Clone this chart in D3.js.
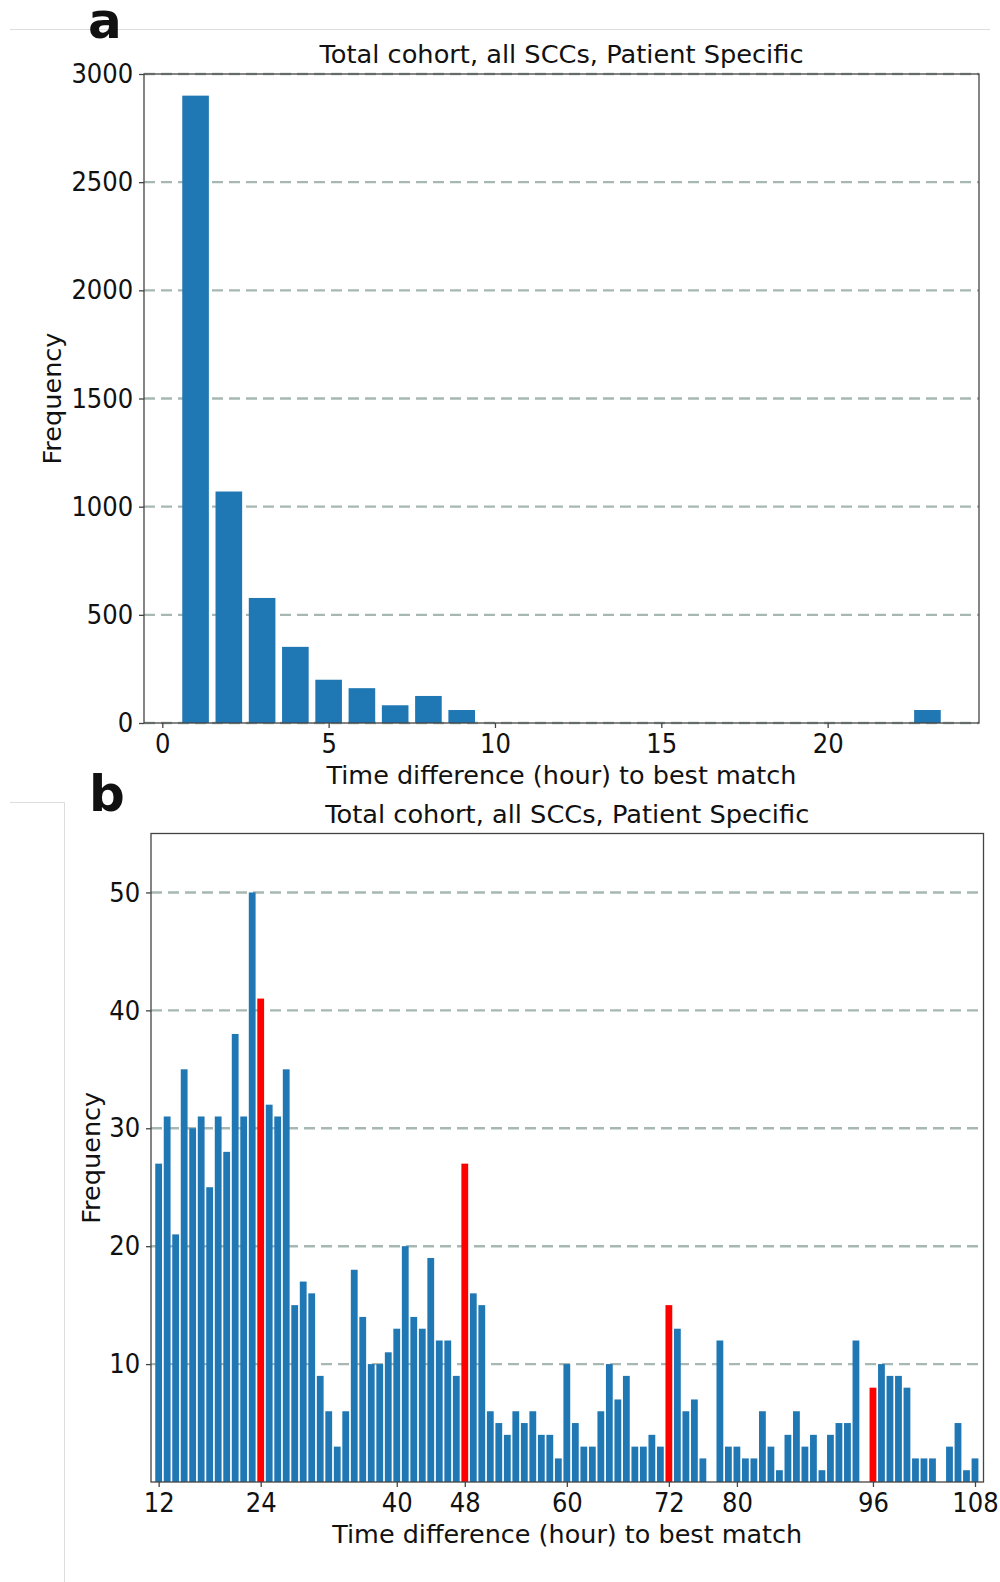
<!DOCTYPE html>
<html>
<head>
<meta charset="utf-8">
<script src="https://cdn.jsdelivr.net/npm/d3@7"></script>
<style>
  body { margin: 0; background: #fff; }
  text { font-family: 'DejaVu Sans', sans-serif; fill: #111; }
</style>
</head>
<body>
<script>
const w = 1000;
const h = 1582;

// panel a: hours 1..9 and 23
const hoursA = [1, 2, 3, 4, 5, 6, 7, 8, 9, 23];
const countsA = [2900, 1070, 578, 352, 200, 161, 82, 125, 60, 60];
const xTicksA = [0, 5, 10, 15, 20];
const yTicksA = [0, 500, 1000, 1500, 2000, 2500, 3000];

// panel b: hours 12..108
const hoursB = d3.range(12, 109);
const countsB = [27, 31, 21, 35, 30, 31, 25, 31, 28, 38,
  31, 50, 41, 32, 31, 35, 15, 17, 16, 9,
  6, 3, 6, 18, 14, 10, 10, 11, 13, 20,
  14, 13, 19, 12, 12, 9, 27, 16, 15, 6,
  5, 4, 6, 5, 6, 4, 4, 2, 10, 5,
  3, 3, 6, 10, 7, 9, 3, 3, 4, 3,
  15, 13, 6, 7, 2, 0, 12, 3, 3, 2,
  2, 6, 3, 1, 4, 6, 3, 4, 1, 4,
  5, 5, 12, 0, 8, 10, 9, 9, 8, 2,
  2, 2, 0, 3, 5, 1, 2];
const redHours = [24, 48, 72, 96];
const xTicksB = [12, 24, 40, 48, 60, 72, 80, 96, 108];
const yTicksB = [10, 20, 30, 40, 50];

const title = 'Total cohort, all SCCs, Patient Specific';
const xTitle = 'Time difference (hour) to best match';

const svg = d3.select('body')
  .append('svg')
  .attr('width', w)
  .attr('height', h);

// light separator lines from the figure layout
svg.append('line').attr('x1', 10).attr('x2', 990).attr('y1', 29.5).attr('y2', 29.5)
  .attr('stroke', '#ddd').attr('stroke-width', 1);
svg.append('line').attr('x1', 10).attr('x2', 64.5).attr('y1', 802.5).attr('y2', 802.5)
  .attr('stroke', '#ddd').attr('stroke-width', 1);
svg.append('line').attr('x1', 64.5).attr('x2', 64.5).attr('y1', 802.5).attr('y2', 1582)
  .attr('stroke', '#ddd').attr('stroke-width', 1);

function styleTicks(a) {
  a.select('.domain').remove();
  a.selectAll('line').attr('stroke', '#444').attr('stroke-width', 1.3);
  a.selectAll('text')
    .attr('font-size', 27)
    .attr('font-family', 'DejaVu Sans')
    .attr('fill', '#111')
    .attr('transform', 'scale(0.9,1)');
}

function panel(cfg) {
  const x = d3.scaleLinear().domain(cfg.xDomain).range([cfg.left, cfg.right]);
  const y = d3.scaleLinear().domain(cfg.yDomain).range([cfg.bottom, cfg.top]);
  const g = svg.append('g');

  g.selectAll('line.grid')
    .data(cfg.yTicks)
    .enter()
    .append('line')
    .attr('class', 'grid')
    .attr('x1', cfg.left)
    .attr('x2', cfg.right)
    .attr('y1', d => y(d))
    .attr('y2', d => y(d))
    .attr('stroke', '#a7b8b3')
    .attr('stroke-width', 2.4)
    .attr('stroke-dasharray', '11,6');

  g.selectAll('rect')
    .data(cfg.hours)
    .enter()
    .append('rect')
    .attr('x', d => x(d - 0.4))
    .attr('width', d => x(d + 0.4) - x(d - 0.4))
    .attr('y', (d, i) => y(cfg.counts[i]))
    .attr('height', (d, i) => y(0) - y(cfg.counts[i]))
    .style('fill', d => cfg.red.includes(d) ? '#ff0000' : '#1f77b4');

  g.append('rect')
    .attr('x', cfg.left)
    .attr('y', cfg.top)
    .attr('width', cfg.right - cfg.left)
    .attr('height', cfg.bottom - cfg.top)
    .attr('fill', 'none')
    .attr('stroke', '#444')
    .attr('stroke-width', 1.3);

  g.append('g')
    .attr('transform', `translate(0,${cfg.bottom})`)
    .call(d3.axisBottom(x).tickValues(cfg.xTicks).tickFormat(d3.format('d')).tickSize(5).tickPadding(6))
    .call(styleTicks);

  g.append('g')
    .attr('transform', `translate(${cfg.left},0)`)
    .call(d3.axisLeft(y).tickValues(cfg.yTicks).tickFormat(d3.format('d')).tickSize(5).tickPadding(7))
    .call(styleTicks);

  g.append('text')
    .attr('x', (cfg.left + cfg.right) / 2)
    .attr('y', cfg.top - 11)
    .attr('text-anchor', 'middle')
    .attr('font-size', 25)
    .attr('textLength', 484)
    .attr('lengthAdjust', 'spacingAndGlyphs')
    .text(title);

  g.append('text')
    .attr('x', (cfg.left + cfg.right) / 2)
    .attr('y', cfg.xTitleY)
    .attr('text-anchor', 'middle')
    .attr('font-size', 25)
    .attr('textLength', 470)
    .attr('lengthAdjust', 'spacingAndGlyphs')
    .text(xTitle);

  g.append('text')
    .attr('transform', `translate(${cfg.yTitleX},${(cfg.top + cfg.bottom) / 2}) rotate(-90)`)
    .attr('text-anchor', 'middle')
    .attr('font-size', 25)
    .attr('textLength', 132)
    .attr('lengthAdjust', 'spacingAndGlyphs')
    .text('Frequency');

  svg.append('text')
    .attr('x', cfg.labelX)
    .attr('y', cfg.labelY)
    .attr('font-family', 'Liberation Sans, Arial, sans-serif')
    .attr('font-weight', 'bold')
    .attr('font-size', 50)
    .text(cfg.label);
}

panel({
  label: 'a', labelX: 88, labelY: 38,
  hours: hoursA, counts: countsA, red: [],
  xDomain: [-0.55, 24.55], yDomain: [0, 3000],
  xTicks: xTicksA, yTicks: yTicksA,
  left: 144, right: 979, top: 74, bottom: 723,
  xTitleY: 784, yTitleX: 61
});

panel({
  label: 'b', labelX: 89, labelY: 811,
  hours: hoursB, counts: countsB, red: redHours,
  xDomain: [11.1, 109], yDomain: [0, 55],
  xTicks: xTicksB, yTicks: yTicksB,
  left: 151, right: 983.5, top: 833.5, bottom: 1482,
  xTitleY: 1543, yTitleX: 100
});
</script>
</body>
</html>
